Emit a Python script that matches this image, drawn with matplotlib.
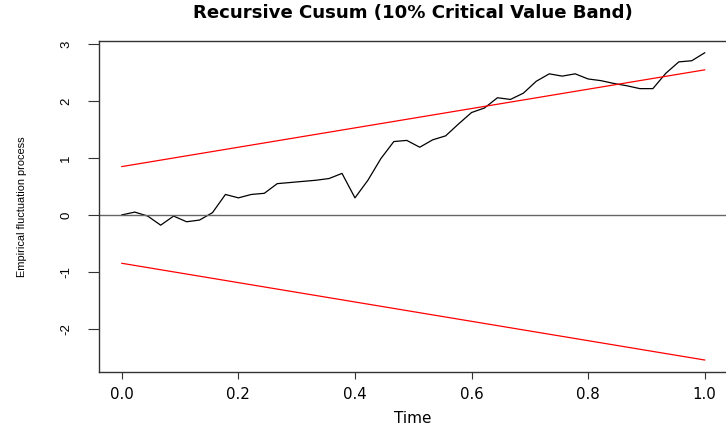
import numpy as np
import matplotlib
matplotlib.use("Agg")
import matplotlib.pyplot as plt

plt.rcParams['axes.unicode_minus'] = False

# recursive cusum process, 46 points on t = 0 .. 1
cusum = [0.00, 0.05, -0.02, -0.18, -0.02, -0.12, -0.09, 0.04, 0.36, 0.30,
         0.36, 0.38, 0.55, 0.57, 0.59, 0.61, 0.64, 0.73, 0.30, 0.61,
         0.99, 1.29, 1.31, 1.19, 1.32, 1.39, 1.60, 1.80, 1.88, 2.06,
         2.03, 2.14, 2.35, 2.48, 2.44, 2.48, 2.39, 2.36, 2.31, 2.27,
         2.22, 2.22, 2.49, 2.69, 2.71, 2.85]
time = np.linspace(0, 1, len(cusum))
# 10% critical value of the boundary
crit = 0.85
xticks = [0.0, 0.2, 0.4, 0.6, 0.8, 1.0]
xticklabels = ["0.0", "0.2", "0.4", "0.6", "0.8", "1.0"]
yticks = [-2, -1, 0, 1, 2, 3]
yticklabels = ["-2", "-1", "0", "1", "2", "3"]

upper = crit + 2 * crit * time
lower = -upper

W, H = 726, 432
fig = plt.figure(figsize=(W / 100, H / 100), dpi=100)
# plot region in pixels (right side runs slightly past the picture)
L, R, T, B = 98.5, 728.0, 40.5, 372.3
ax = fig.add_axes([L / W, 1 - B / H, (R - L) / W, (B - T) / H])

ax.plot(time, cusum, color="black", lw=0.9)
ax.plot(time, upper, color="red", lw=0.9)
ax.plot(time, lower, color="red", lw=0.9)
ax.axhline(0, color="#666666", lw=1.0)

allv = np.concatenate([cusum, upper, lower])
lo, hi = allv.min(), allv.max()
pad = 0.04 * (hi - lo)
ax.set_ylim(lo - pad, hi + pad)
ax.set_xlim(-0.04, 1.04)

for s in ax.spines.values():
    s.set_color("#333333")
    s.set_linewidth(1.0)

ax.set_xticks(xticks)
ax.set_xticklabels(xticklabels, family="DejaVu Sans", fontsize=10.8)
ax.set_yticks(yticks)
ax.set_yticklabels(yticklabels, family="Liberation Sans",
                   fontsize=9.5, rotation=90, va="center")
ax.tick_params(axis="x", length=4.8, width=0.8, pad=5.8, colors="#333333", labelcolor="black")
ax.tick_params(axis="y", length=7.9, width=0.8, pad=11.0, colors="#333333", labelcolor="black")

ax.set_xlabel("Time", family="DejaVu Sans", fontsize=11.0, va="center")
ax.xaxis.set_label_coords(0.5, (B - 418.5) / (B - T))
ax.set_ylabel("Empirical fluctuation process", family="Liberation Sans",
              fontsize=7.9, va="center")
ax.yaxis.set_label_coords((21.7 - L) / (R - L), 0.5)

fig.text((L + R) / 2 / W, 1 - 13.3 / H, "Recursive Cusum (10% Critical Value Band)",
         family="DejaVu Sans", fontweight="bold", fontsize=13.1, ha="center", va="center")

fig.savefig("out.png", dpi=100)
